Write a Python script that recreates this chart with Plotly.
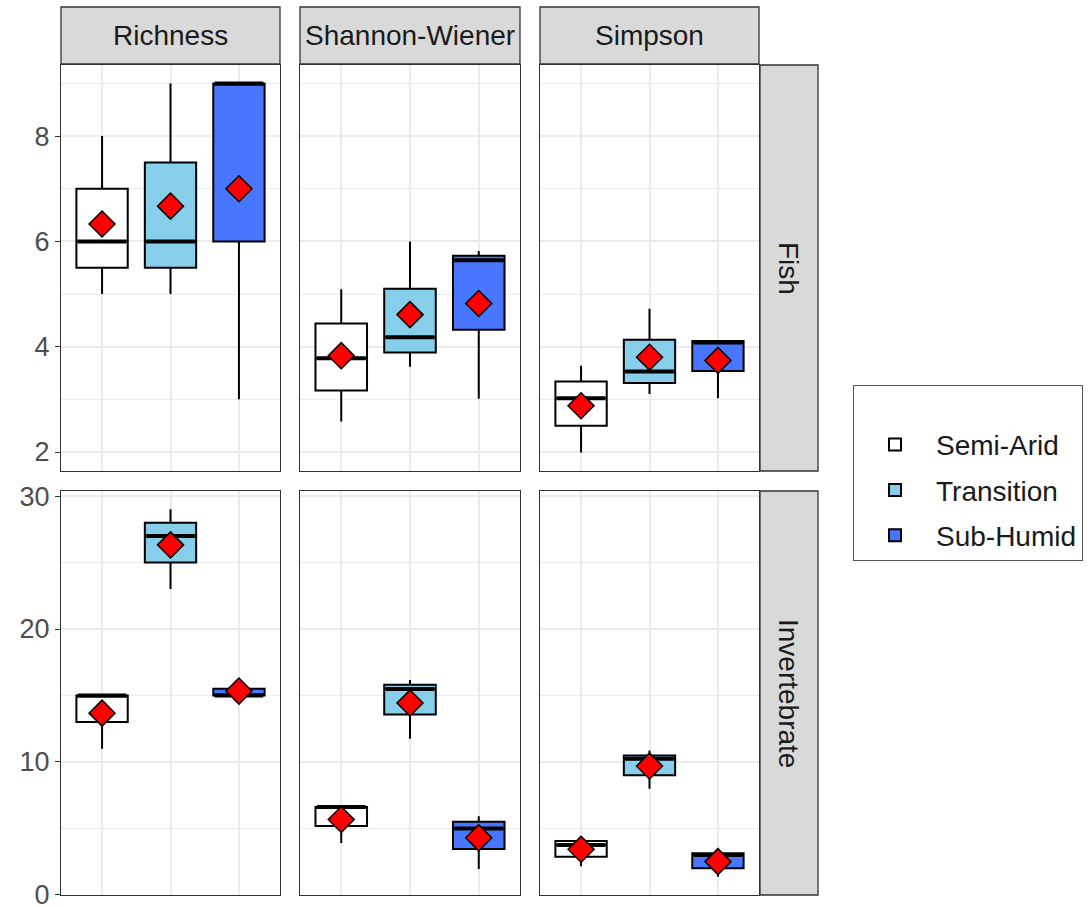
import plotly.graph_objects as go

# ---------------- data ----------------
groups = ["Semi-Arid", "Transition", "Sub-Humid"]
metrics = ["Richness", "Shannon-Wiener", "Simpson"]
taxa = ["Fish", "Invertebrate"]
fills = ["#FFFFFF", "#87CEEB", "#4876FF"]

# indexed [metric][group]
fish_lower = [[5, 5, 3], [2.58, 3.62, 3.01], [1.99, 3.10, 3.02]]
fish_q1 = [[5.5, 5.5, 6], [3.17, 3.89, 4.32], [2.50, 3.31, 3.54]]
fish_median = [[6, 6, 9], [3.78, 4.18, 5.64], [3.02, 3.53, 4.08]]
fish_q3 = [[7, 7.5, 9], [4.44, 5.10, 5.73], [3.34, 4.13, 4.11]]
fish_upper = [[8, 9, 9], [5.09, 6.0, 5.82], [3.64, 4.72, 4.11]]
fish_mean = [[6.33, 6.67, 7.0], [3.83, 4.61, 4.82], [2.88, 3.80, 3.74]]

inv_lower = [[11, 23, 15], [3.9, 11.74, 1.95], [2.15, 7.99, 1.37]]
inv_q1 = [[13, 25, 15], [5.17, 13.56, 3.45], [2.87, 8.99, 2.0]]
inv_median = [[15, 27, 15], [6.6, 15.48, 5.0], [3.75, 10.24, 3.0]]
inv_q3 = [[15, 28, 15.5], [6.6, 15.8, 5.49], [4.05, 10.49, 3.12]]
inv_upper = [[15, 29, 15.5], [6.6, 16.16, 5.92], [4.4, 10.86, 3.3]]
inv_mean = [[13.67, 26.33, 15.33], [5.67, 14.43, 4.29], [3.43, 9.69, 2.5]]

stats = [
    dict(lower=fish_lower, q1=fish_q1, median=fish_median, q3=fish_q3, upper=fish_upper, mean=fish_mean),
    dict(lower=inv_lower, q1=inv_q1, median=inv_median, q3=inv_q3, upper=inv_upper, mean=inv_mean),
]

# ---------------- layout geometry (pixels) ----------------
W, H = 1091, 907
col_px = [(61, 280), (300, 520), (540, 759)]
row_px = [(65, 471), (491, 895)]
strip_top = (7, 64)
strip_right = (760, 818)
FONT = "Liberation Sans, Arial, sans-serif"
FS = 28
BORDER = "#333333"
GRID = "#EBEBEB"


def fx(p):
    return p / W


def fy(p):
    return 1 - p / H


fig = go.Figure()
layout = {}
box_w = 0.75

row_dtick = [2, 10]

for r in range(2):
    s = stats[r]
    lo = min(min(v) for v in s["lower"])
    hi = max(max(v) for v in s["upper"])
    pad = 0.05 * (hi - lo)
    yr = [lo - pad, hi + pad]
    for c in range(3):
        idx = r * 3 + c + 1
        xa = "x" if idx == 1 else f"x{idx}"
        ya = "y" if idx == 1 else f"y{idx}"
        for g in range(3):
            pos = g + 1
            fig.add_trace(go.Box(
                x=[pos], q1=[s["q1"][c][g]], median=[s["median"][c][g]], q3=[s["q3"][c][g]],
                lowerfence=[s["lower"][c][g]], upperfence=[s["upper"][c][g]],
                width=box_w, fillcolor=fills[g], line=dict(color="black", width=2),
                whiskerwidth=0, boxpoints=False, name=groups[g], legendgroup=groups[g],
                showlegend=(r == 0 and c == 0), hoverinfo="skip",
                xaxis=xa, yaxis=ya))
            fig.add_trace(go.Scatter(
                x=[pos - box_w / 2 + 0.02, pos + box_w / 2 - 0.02],
                y=[s["median"][c][g]] * 2, mode="lines",
                line=dict(color="black", width=4), showlegend=False, hoverinfo="skip",
                legendgroup=groups[g], xaxis=xa, yaxis=ya))
        fig.add_trace(go.Scatter(
            x=[1, 2, 3], y=s["mean"][c], mode="markers",
            marker=dict(symbol="diamond", size=20, color="red", line=dict(color="black", width=1.5)),
            showlegend=False, hoverinfo="skip", xaxis=xa, yaxis=ya))

        xk = "xaxis" if idx == 1 else f"xaxis{idx}"
        yk = "yaxis" if idx == 1 else f"yaxis{idx}"
        layout[xk] = dict(
            domain=[fx(col_px[c][0]), fx(col_px[c][1])], anchor=ya,
            range=[0.4, 3.6], tickvals=[1, 2, 3], showticklabels=False, ticks="",
            showgrid=True, gridcolor=GRID, gridwidth=1.5, zeroline=False,
            showline=True, mirror=True, linecolor=BORDER, linewidth=1.3)
        layout[yk] = dict(
            domain=[fy(row_px[r][1]), fy(row_px[r][0])], anchor=xa,
            range=yr, tickmode="linear", tick0=0, dtick=row_dtick[r],
            showticklabels=(c == 0), ticks="outside" if c == 0 else "",
            ticklen=5, tickwidth=1.3, tickcolor=BORDER,
            tickfont=dict(family=FONT, size=FS - 1, color="#4D4D4D"),
            ticklabeloverflow="allow",
            showgrid=True, gridcolor=GRID, gridwidth=1.5, zeroline=False,
            minor=dict(dtick=row_dtick[r] / 2, showgrid=True, gridcolor=GRID, gridwidth=0.8, ticks=""),
            showline=True, mirror=True, linecolor=BORDER, linewidth=1.3, automargin=False)

shapes = []
annotations = []
for c in range(3):
    shapes.append(dict(type="rect", xref="paper", yref="paper",
                       x0=fx(col_px[c][0]), x1=fx(col_px[c][1]),
                       y0=fy(strip_top[1]), y1=fy(strip_top[0]),
                       fillcolor="#D9D9D9", line=dict(color=BORDER, width=1.3)))
    annotations.append(dict(xref="paper", yref="paper", showarrow=False,
                            xanchor="center", yanchor="middle",
                            x=fx((col_px[c][0] + col_px[c][1]) / 2),
                            y=fy((strip_top[0] + strip_top[1]) / 2),
                            text=metrics[c], font=dict(family=FONT, size=FS, color="#1A1A1A")))
for r in range(2):
    shapes.append(dict(type="rect", xref="paper", yref="paper",
                       x0=fx(strip_right[0]), x1=fx(strip_right[1]),
                       y0=fy(row_px[r][1]), y1=fy(row_px[r][0]),
                       fillcolor="#D9D9D9", line=dict(color=BORDER, width=1.3)))
    annotations.append(dict(xref="paper", yref="paper", showarrow=False,
                            xanchor="center", yanchor="middle",
                            x=fx((strip_right[0] + strip_right[1]) / 2),
                            y=fy((row_px[r][0] + row_px[r][1]) / 2),
                            text=taxa[r], textangle=90,
                            font=dict(family=FONT, size=FS, color="#1A1A1A")))

fig.update_layout(
    width=W, height=H, margin=dict(l=0, r=0, t=0, b=0),
    paper_bgcolor="white", plot_bgcolor="white",
    font=dict(family=FONT, size=FS, color="#1A1A1A"),
    shapes=shapes, annotations=annotations,
    legend=dict(x=fx(853), y=fy(385), xanchor="left", yanchor="top",
                bordercolor="#555555", borderwidth=1, bgcolor="white",
                font=dict(family=FONT, size=FS, color="#1A1A1A"),
                title=dict(text=" ", font=dict(size=26)),
                traceorder="grouped", tracegroupgap=6, itemwidth=72),
    **layout)

fig.write_html("out.html")
